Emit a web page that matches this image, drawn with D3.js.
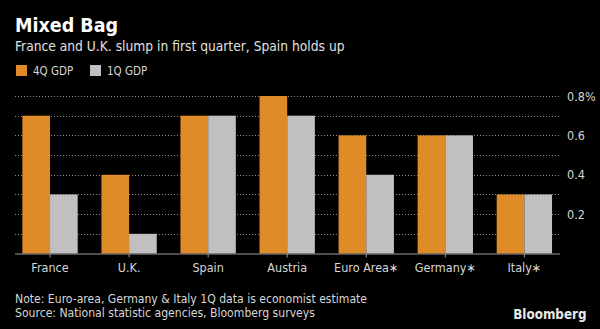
<!DOCTYPE html>
<html>
<head>
<meta charset="utf-8">
<script src="https://cdn.jsdelivr.net/npm/d3@7"></script>
<style>
  html, body { margin: 0; padding: 0; background: #000; }
  svg { display: block; }
  text { font-family: "DejaVu Sans Condensed", "DejaVu Sans", sans-serif; }
</style>
</head>
<body>
<svg id="chart" width="600" height="329"></svg>
<script>
// GDP growth, quarter on quarter, %
const countries = ["France", "U.K.", "Spain", "Austria", "Euro Area\u2217", "Germany\u2217", "Italy\u2217"];
const gdp4Q = [0.7, 0.4, 0.7, 0.8, 0.6, 0.6, 0.3];
const gdp1Q = [0.3, 0.1, 0.7, 0.7, 0.4, 0.6, 0.3];
const seriesNames = ["4Q GDP", "1Q GDP"];
const seriesColors = ["#de8b28", "#c0c0c0"];
const yTicks = [0.2, 0.4, 0.6, 0.8];

const svg = d3.select("#chart");
const W = 600, H = 329;
svg.append("rect").attr("width", W).attr("height", H).attr("fill", "#000");

const plotLeft = 15, plotRight = 560;
const x0 = d3.scaleBand().domain(countries).range([10.5, 563.9])
  .paddingInner(0.3).paddingOuter(0.15);
const x1 = d3.scaleBand().domain(seriesNames).range([0, x0.bandwidth()]);
const y = d3.scaleLinear().domain([0, 0.8]).range([253.5, 96]);

// dotted gridlines every 0.1
const grid = svg.append("g");
grid.selectAll("line").data(d3.range(1, 9).map(i => i / 10)).join("line")
  .attr("x1", plotLeft).attr("x2", plotRight)
  .attr("y1", d => Math.round(y(d)) + 0.5).attr("y2", d => Math.round(y(d)) + 0.5)
  .attr("stroke", "#8a8a8a").attr("stroke-width", 1)
  .attr("stroke-dasharray", "1,2");

// bars
const rows = countries.map((c, i) => ({ c, v: [gdp4Q[i], gdp1Q[i]] }));
const groups = svg.append("g").selectAll("g").data(rows).join("g")
  .attr("transform", d => `translate(${x0(d.c)},0)`);
groups.selectAll("rect").data(d => d.v.map((v, k) => ({ k, v }))).join("rect")
  .attr("x", d => x1(seriesNames[d.k]))
  .attr("width", x1.bandwidth())
  .attr("y", d => y(d.v))
  .attr("height", d => y(0) - y(d.v))
  .attr("fill", d => seriesColors[d.k]);

// baseline + category ticks
svg.append("line").attr("x1", plotLeft).attr("x2", plotRight)
  .attr("y1", y(0) + 0.5).attr("y2", y(0) + 0.5)
  .attr("stroke", "#9a9a9a").attr("stroke-width", 1);
const xAxis = d3.axisBottom(x0).tickSize(4).tickPadding(6);
const gx = svg.append("g").attr("transform", `translate(0,${y(0)})`).call(xAxis);
gx.select(".domain").remove();
gx.selectAll(".tick line").attr("stroke", "#9a9a9a");
gx.selectAll(".tick text").attr("fill", "#d6d6d6").attr("font-size", 12.5)
  .attr("font-family", "'DejaVu Sans Condensed', 'DejaVu Sans', sans-serif");

// right value axis
const yAxis = d3.axisRight(y).tickValues(yTicks)
  .tickFormat(d => d === 0.8 ? "0.8%" : d3.format(".1f")(d))
  .tickSize(0).tickPadding(0);
const gy = svg.append("g").attr("transform", `translate(567,0)`).call(yAxis);
gy.select(".domain").remove();
gy.selectAll(".tick text").attr("fill", "#d6d6d6").attr("font-size", 12.5)
  .attr("font-family", "'DejaVu Sans Condensed', 'DejaVu Sans', sans-serif");

// title + subtitle
svg.append("text").attr("x", 15).attr("y", 32).text("Mixed Bag")
  .attr("fill", "#fff").attr("font-size", 19.5).attr("font-weight", "bold");
svg.append("text").attr("x", 15).attr("y", 50.5)
  .text("France and U.K. slump in first quarter, Spain holds up")
  .attr("fill", "#e0e0e0").attr("font-size", 13.7);

// legend
const leg = svg.append("g").attr("transform", "translate(16,65)");
const legX = [0, 74];
seriesNames.forEach((s, i) => {
  leg.append("rect").attr("x", legX[i]).attr("y", 0).attr("width", 11).attr("height", 11)
    .attr("fill", seriesColors[i]);
  leg.append("text").attr("x", legX[i] + 17).attr("y", 10).text(s)
    .attr("fill", "#d6d6d6").attr("font-size", 11.5);
});

// footer
svg.append("text").attr("x", 15).attr("y", 303.3)
  .text("Note: Euro-area, Germany & Italy 1Q data is economist estimate")
  .attr("fill", "#d6d6d6").attr("font-size", 12.1);
svg.append("text").attr("x", 15).attr("y", 317)
  .text("Source: National statistic agencies, Bloomberg surveys")
  .attr("fill", "#d6d6d6").attr("font-size", 12.1);
svg.append("text").attr("x", 586.5).attr("y", 319).attr("text-anchor", "end")
  .text("Bloomberg").attr("fill", "#e8e8e8").attr("font-size", 13.3).attr("font-weight", "bold")
  .attr("font-family", "'Liberation Sans', Arial, sans-serif");
</script>
</body>
</html>
